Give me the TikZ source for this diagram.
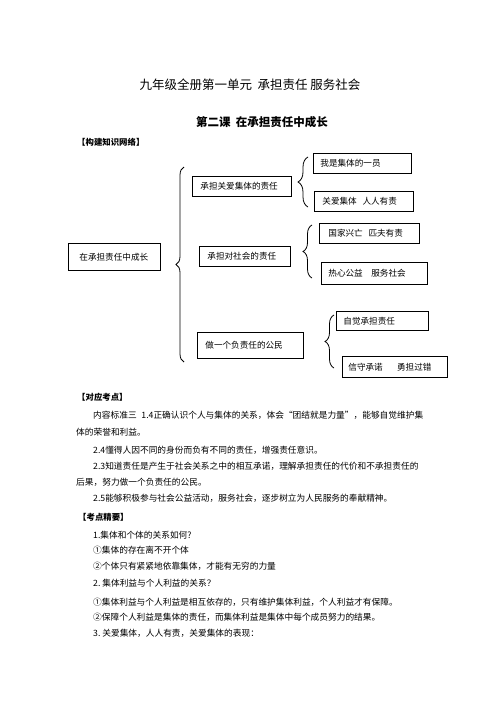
\documentclass[tikz,border=0pt]{standalone}
\usepackage{fontspec}
\setmainfont{Noto Sans CJK SC}
\usetikzlibrary{decorations.pathreplacing}
\XeTeXlinebreaklocale "zh"
\XeTeXlinebreakskip=0pt plus 1pt
\begin{document}
\begin{tikzpicture}[x=1pt,y=-1pt,
  bx/.style={draw, line width=0.8pt, anchor=north west, inner xsep=7pt, inner ysep=0pt, align=left, font=\fontsize{8.6}{10}\selectfont},
  txt/.style={anchor=west, inner sep=0pt, font=\fontsize{8.7}{10}\selectfont},
  hd/.style={anchor=west, inner sep=0pt, font=\fontsize{8.4}{10}\selectfont\bfseries},
  brc/.style={decorate, line width=0.8pt}
]
\useasboundingbox (0,0) rectangle (500,707);
\fill[white] (0,0) rectangle (500,707);

% titles
\node[inner sep=0pt, font=\fontsize{12.5}{14}\selectfont] (t1) at (250,85) {九年级全册第一单元\ \ 承担责任\ 服务社会};
\node[inner sep=0pt, font=\fontsize{11.5}{13}\selectfont\bfseries] (t2) at (262,122) {第二课\ \ 在承担责任中成长};
\node[hd] (h1) at (77,142) {【构建知识网络】};

% mind map boxes
\node[bx, inner xsep=11pt, text width=70pt, minimum height=27pt] (R) at (68,243) {在承担责任中成长};
\node[bx, inner xsep=8pt, text width=83pt, minimum height=20pt] (A) at (192,176) {承担关爱集体的责任};
\node[bx, inner xsep=7pt, text width=84pt, minimum height=20pt] (A1) at (313,153) {我是集体的一员};
\node[bx, inner xsep=8pt, text width=83pt, minimum height=20pt] (A2) at (314,191) {关爱集体\ \ 人人有责};
\node[bx, inner xsep=8pt, text width=75pt, minimum height=20pt] (B) at (199,246) {承担对社会的责任};
\node[bx, inner xsep=9pt, text width=82pt, minimum height=20pt] (B1) at (319,223) {国家兴亡\ \ 匹夫有责};
\node[bx, inner xsep=7pt, text width=92pt, minimum height=22pt] (B2) at (321,262) {热心公益\ \ \ 服务社会};
\node[bx, inner xsep=8pt, text width=90pt, minimum height=26pt] (C) at (197,332) {做一个负责任的公民};
\node[bx, inner xsep=7pt, text width=78pt, minimum height=19pt] (C1) at (336,311) {自觉承担责任};
\node[bx, inner xsep=6pt, text width=93pt, minimum height=21pt] (C2) at (342,356) {信守承诺\ \ \ \ \ 勇担过错};

% braces
\coordinate (Rb) at (184,362); \coordinate (Rt) at (184,167);
\draw[brc, decoration={brace, amplitude=8pt}] (Rb) -- (Rt);
\coordinate (Ab) at (308,207); \coordinate (At) at (308,157);
\draw[brc, decoration={brace, amplitude=10pt}] (Ab) -- (At);
\coordinate (Bb) at (312,278); \coordinate (Bt) at (312,225);
\draw[brc, decoration={brace, amplitude=9pt}] (Bb) -- (Bt);
\coordinate (Cb) at (334,368); \coordinate (Ct) at (334,315);
\draw[brc, decoration={brace, amplitude=9pt}] (Cb) -- (Ct);

% section 2
\node[hd] (h2) at (77,397) {【对应考点】};
\node[txt] (l1) at (93,415) {\makebox[330pt][s]{内容标准三\ \ 1.4正确认识个人与集体的关系，体会“团结就是力量”，能够自觉维护集}};
\node[txt] (l2) at (76,432) {体的荣誉和利益。};
\node[txt] (l3) at (93,450) {2.4懂得人因不同的身份而负有不同的责任，增强责任意识。};
\node[txt] (l4) at (93,466) {\makebox[330pt][s]{2.3知道责任是产生于社会关系之中的相互承诺，理解承担责任的代价和不承担责任的}};
\node[txt] (l5) at (76,482) {后果，努力做一个负责任的公民。};
\node[txt] (l6) at (93,498) {2.5能够积极参与社会公益活动，服务社会，逐步树立为人民服务的奉献精神。};

% section 3
\node[hd] (h3) at (78,517) {【考点精要】};
\node[txt] (m1) at (93,535) {1.集体和个体的关系如何?};
\node[txt] (m2) at (93,550) {①集体的存在离不开个体};
\node[txt] (m3) at (93,566) {②个体只有紧紧地依靠集体，才能有无穷的力量};
\node[txt] (m4) at (93,583) {2.\ 集体利益与个人利益的关系？};
\node[txt] (m5) at (93,602) {①集体利益与个人利益是相互依存的，只有维护集体利益，个人利益才有保障。};
\node[txt] (m6) at (93,617) {②保障个人利益是集体的责任，而集体利益是集体中每个成员努力的结果。};
\node[txt] (m7) at (93,633) {3.\ 关爱集体，人人有责，关爱集体的表现：};
\end{tikzpicture}
\end{document}
